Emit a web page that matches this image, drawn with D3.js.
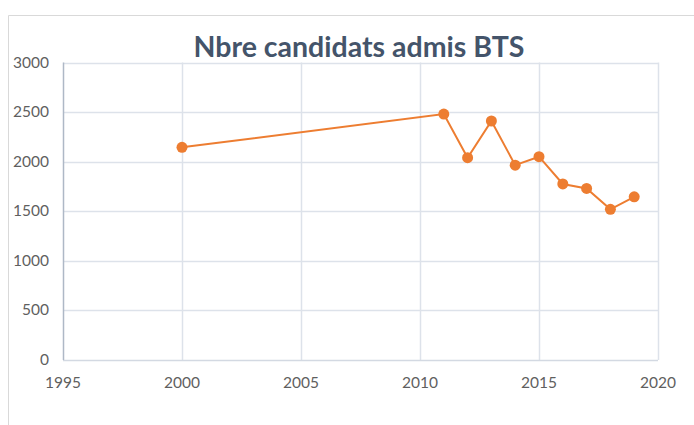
<!DOCTYPE html>
<html>
<head>
<meta charset="utf-8">
<script src="https://cdn.jsdelivr.net/npm/d3@7"></script>
<style>
  body { margin: 0; background: #fff; }
  svg { display: block; }
</style>
</head>
<body>
<svg id="svg" width="694" height="425"></svg>
<script>
// chart values
var title = "Nbre candidats admis BTS";
var years = [2000, 2011, 2012, 2013, 2014, 2015, 2016, 2017, 2018, 2019];
var admis = [2145, 2480, 2040, 2410, 1965, 2050, 1775, 1730, 1520, 1645];
var xTicks = [1995, 2000, 2005, 2010, 2015, 2020];
var yTicks = [0, 500, 1000, 1500, 2000, 2500, 3000];

var svg = d3.select("#svg");
var plotLeft = 63, plotRight = 658, plotTop = 62.5, plotBottom = 360;

var x = d3.scaleLinear().domain([1995, 2020]).range([plotLeft, plotRight]);
var y = d3.scaleLinear().domain([0, 3000]).range([plotBottom, plotTop]);

// outer frame of the chart area
svg.append("path")
  .attr("d", "M8.5,425 L8.5,15.5 L694,15.5")
  .attr("fill", "none")
  .attr("stroke", "#d9d9d9")
  .attr("stroke-width", 1);

// gridlines
svg.append("g").selectAll("line").data(yTicks.slice(1)).enter().append("line")
  .attr("x1", plotLeft).attr("x2", plotRight)
  .attr("y1", function(d) { return Math.round(y(d)) + 0.5; })
  .attr("y2", function(d) { return Math.round(y(d)) + 0.5; })
  .attr("stroke", "#dde2ea").attr("stroke-width", 1.5);
svg.append("g").selectAll("line").data(xTicks.slice(1)).enter().append("line")
  .attr("x1", function(d) { return Math.round(x(d)) + 0.5; })
  .attr("x2", function(d) { return Math.round(x(d)) + 0.5; })
  .attr("y1", plotTop).attr("y2", plotBottom)
  .attr("stroke", "#dde2ea").attr("stroke-width", 1.5);

// axes lines
svg.append("line")
  .attr("x1", plotLeft).attr("x2", plotRight)
  .attr("y1", plotBottom + 0.5).attr("y2", plotBottom + 0.5)
  .attr("stroke", "#d3d9e2").attr("stroke-width", 1.5);
svg.append("line")
  .attr("x1", plotLeft + 0.5).attr("x2", plotLeft + 0.5)
  .attr("y1", plotTop).attr("y2", plotBottom)
  .attr("stroke", "#aeb8c6").attr("stroke-width", 1.5);

// tick labels
svg.append("g").selectAll("text").data(yTicks).enter().append("text")
  .attr("x", 49)
  .attr("y", function(d) { return y(d) + 5; })
  .attr("text-anchor", "end")
  .attr("font-family", "Lato, sans-serif")
  .attr("font-size", 15.5)
  .attr("fill", "#5f5f5f")
  .text(function(d) { return d; });
svg.append("g").selectAll("text").data(xTicks).enter().append("text")
  .attr("x", function(d) { return x(d); })
  .attr("y", 388)
  .attr("text-anchor", "middle")
  .attr("font-family", "Lato, sans-serif")
  .attr("font-size", 15.5)
  .attr("fill", "#5f5f5f")
  .text(function(d) { return d; });

// title
svg.append("text")
  .attr("x", 359)
  .attr("y", 57)
  .attr("text-anchor", "middle")
  .attr("font-family", "Lato, sans-serif")
  .attr("font-weight", "bold")
  .attr("font-size", 28.5)
  .attr("fill", "#44546a")
  .text(title);

// series
var pts = years.map(function(d, i) { return [d, admis[i]]; });
var line = d3.line()
  .x(function(d) { return x(d[0]); })
  .y(function(d) { return y(d[1]); });
svg.append("path")
  .datum(pts)
  .attr("d", line)
  .attr("fill", "none")
  .attr("stroke", "#ed7d31")
  .attr("stroke-width", 2);
svg.append("g").selectAll("circle").data(pts).enter().append("circle")
  .attr("cx", function(d) { return x(d[0]); })
  .attr("cy", function(d) { return y(d[1]); })
  .attr("r", 5.5)
  .attr("fill", "#ed7d31");
</script>
</body>
</html>
